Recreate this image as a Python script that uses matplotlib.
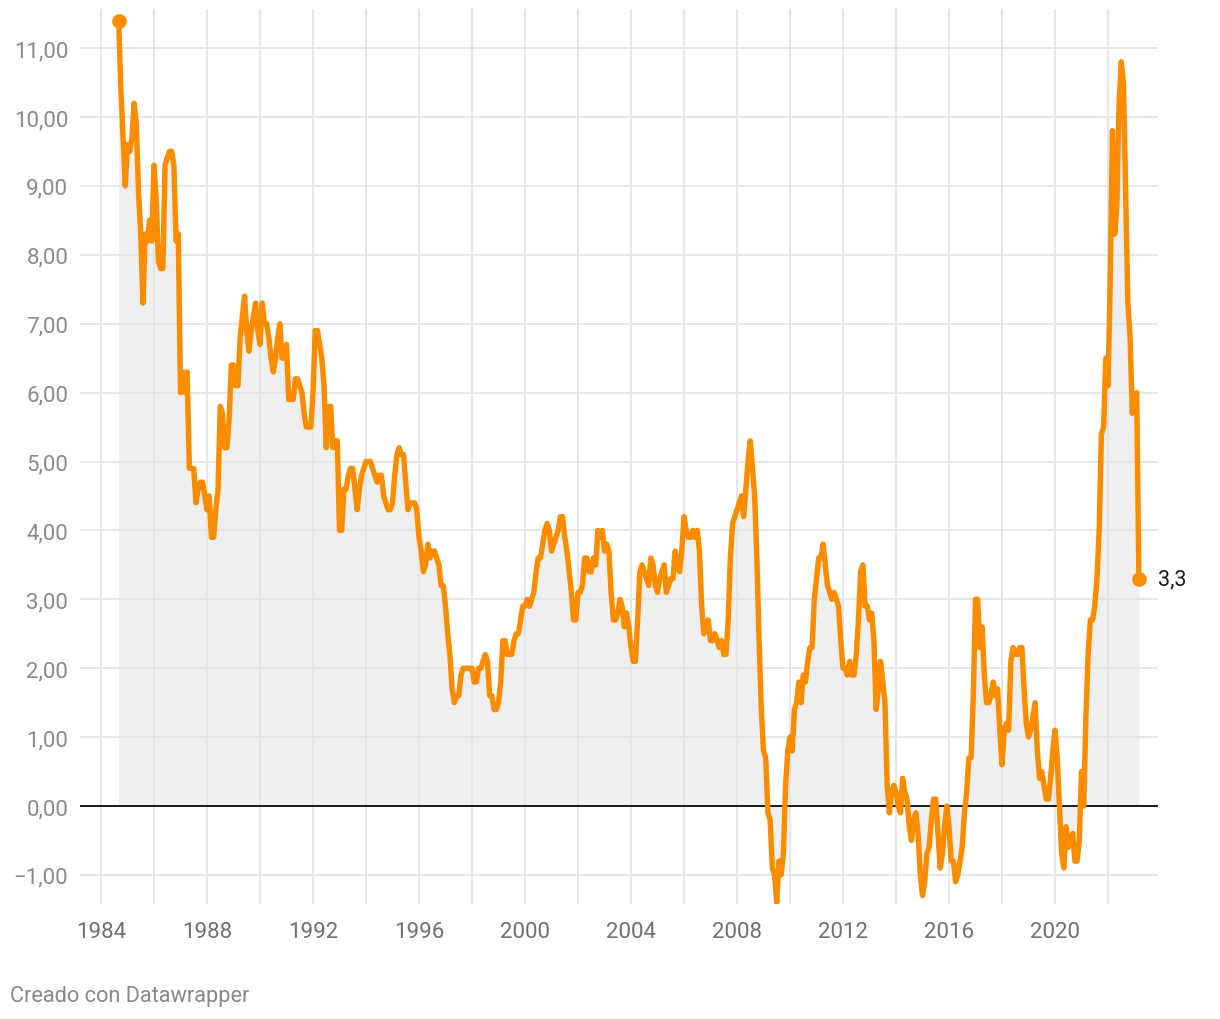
import matplotlib
matplotlib.use("Agg")
import matplotlib.pyplot as plt
import numpy as np

plt.rcParams['font.family'] = ['Roboto', 'DejaVu Sans']

# ---- data: monthly annual inflation rate (%), starting Sep 1984 ----
start_year, start_month = 1984, 9

v1984 = [11.4, 10.4, 9.7, 9.0]
v1985 = [9.6, 9.5, 9.7, 10.2, 9.9, 8.9, 8.3, 7.3, 8.3, 8.2, 8.5, 8.2]
v1986 = [9.3, 8.8, 7.9, 7.8, 7.8, 9.3, 9.4, 9.5, 9.5, 9.3, 8.2, 8.3]
v1987 = [6.0, 6.3, 6.0, 6.3, 4.9, 4.9, 4.9, 4.4, 4.6, 4.7, 4.7, 4.5]
v1988 = [4.3, 4.5, 3.9, 3.9, 4.3, 4.6, 5.8, 5.7, 5.2, 5.2, 5.6, 6.4]
v1989 = [6.4, 6.1, 6.1, 6.8, 7.1, 7.4, 6.9, 6.6, 6.9, 7.1, 7.3, 6.9]
v1990 = [6.7, 7.3, 7.0, 7.0, 6.8, 6.5, 6.3, 6.5, 6.8, 7.0, 6.5, 6.5]
v1991 = [6.7, 5.9, 5.9, 5.9, 6.2, 6.2, 6.1, 6.0, 5.7, 5.5, 5.5, 5.5]
v1992 = [6.0, 6.9, 6.9, 6.7, 6.5, 6.1, 5.2, 5.8, 5.8, 5.2, 5.3, 5.3]
v1993 = [4.0, 4.0, 4.6, 4.6, 4.8, 4.9, 4.9, 4.6, 4.3, 4.6, 4.8, 4.9]
v1994 = [5.0, 5.0, 5.0, 4.9, 4.8, 4.7, 4.8, 4.8, 4.5, 4.4, 4.3, 4.3]
v1995 = [4.4, 4.8, 5.1, 5.2, 5.1, 5.1, 4.7, 4.3, 4.4, 4.4, 4.4, 4.3]
v1996 = [3.9, 3.7, 3.4, 3.5, 3.8, 3.6, 3.7, 3.7, 3.6, 3.5, 3.2, 3.2]
v1997 = [2.9, 2.5, 2.2, 1.7, 1.5, 1.6, 1.6, 1.9, 2.0, 2.0, 2.0, 2.0]
v1998 = [2.0, 1.8, 1.8, 2.0, 2.0, 2.1, 2.2, 2.1, 1.6, 1.6, 1.4, 1.4]
v1999 = [1.5, 1.8, 2.4, 2.4, 2.2, 2.2, 2.2, 2.4, 2.5, 2.5, 2.7, 2.9]
v2000 = [2.9, 3.0, 2.9, 3.0, 3.1, 3.4, 3.6, 3.6, 3.8, 4.0, 4.1, 4.0]
v2001 = [3.7, 3.8, 3.9, 4.0, 4.2, 4.2, 3.9, 3.7, 3.4, 3.1, 2.7, 2.7]
v2002 = [3.1, 3.1, 3.2, 3.6, 3.6, 3.4, 3.4, 3.6, 3.5, 4.0, 3.9, 4.0]
v2003 = [3.7, 3.8, 3.7, 3.1, 2.7, 2.7, 2.8, 3.0, 2.9, 2.6, 2.8, 2.6]
v2004 = [2.3, 2.1, 2.1, 2.7, 3.4, 3.5, 3.4, 3.3, 3.2, 3.6, 3.5, 3.2]
v2005 = [3.1, 3.3, 3.4, 3.5, 3.1, 3.2, 3.3, 3.3, 3.7, 3.5, 3.4, 3.7]
v2006 = [4.2, 4.0, 3.9, 3.9, 4.0, 3.9, 4.0, 3.7, 2.9, 2.5, 2.6, 2.7]
v2007 = [2.4, 2.4, 2.5, 2.4, 2.3, 2.4, 2.2, 2.2, 2.7, 3.6, 4.1, 4.2]
v2008 = [4.3, 4.4, 4.5, 4.2, 4.6, 5.0, 5.3, 4.9, 4.5, 3.6, 2.4, 1.4]
v2009 = [0.8, 0.7, -0.1, -0.2, -0.9, -1.0, -1.4, -0.8, -1.0, -0.7, 0.3, 0.8]
v2010 = [1.0, 0.8, 1.4, 1.5, 1.8, 1.5, 1.9, 1.8, 2.1, 2.3, 2.3, 3.0]
v2011 = [3.3, 3.6, 3.6, 3.8, 3.5, 3.2, 3.1, 3.0, 3.1, 3.0, 2.9, 2.4]
v2012 = [2.0, 2.0, 1.9, 2.1, 1.9, 1.9, 2.2, 2.7, 3.4, 3.5, 2.9, 2.9]
v2013 = [2.7, 2.8, 2.4, 1.4, 1.7, 2.1, 1.8, 1.5, 0.3, -0.1, 0.2, 0.3]
v2014 = [0.2, 0.0, -0.1, 0.4, 0.2, 0.1, -0.3, -0.5, -0.2, -0.1, -0.4, -1.0]
v2015 = [-1.3, -1.1, -0.7, -0.6, -0.2, 0.1, 0.1, -0.4, -0.9, -0.7, -0.3, 0.0]
v2016 = [-0.3, -0.8, -0.8, -1.1, -1.0, -0.8, -0.6, -0.1, 0.2, 0.7, 0.7, 1.6]
v2017 = [3.0, 3.0, 2.3, 2.6, 1.9, 1.5, 1.5, 1.6, 1.8, 1.6, 1.7, 1.1]
v2018 = [0.6, 1.1, 1.2, 1.1, 2.1, 2.3, 2.2, 2.2, 2.3, 2.3, 1.7, 1.2]
v2019 = [1.0, 1.1, 1.3, 1.5, 0.8, 0.4, 0.5, 0.3, 0.1, 0.1, 0.4, 0.8]
v2020 = [1.1, 0.7, 0.0, -0.7, -0.9, -0.3, -0.6, -0.5, -0.4, -0.8, -0.8, -0.5]
v2021 = [0.5, 0.0, 1.3, 2.2, 2.7, 2.7, 2.9, 3.3, 4.0, 5.4, 5.5, 6.5]
v2022 = [6.1, 7.6, 9.8, 8.3, 8.7, 10.2, 10.8, 10.5, 8.9, 7.3, 6.8, 5.7]
v2023 = [5.9, 6.0, 3.3]

y_ticks = [-1, 0, 1, 2, 3, 4, 5, 6, 7, 8, 9, 10, 11]
x_label_years = [1984, 1988, 1992, 1996, 2000, 2004, 2008, 2012, 2016, 2020]
x_grid_years = list(range(1984, 2023, 2))
end_label = "3,3"
footer = "Creado con Datawrapper"

values = np.array(v1984 + v1985 + v1986 + v1987 + v1988 + v1989 + v1990 + v1991 +
                  v1992 + v1993 + v1994 + v1995 + v1996 + v1997 + v1998 + v1999 +
                  v2000 + v2001 + v2002 + v2003 + v2004 + v2005 + v2006 + v2007 +
                  v2008 + v2009 + v2010 + v2011 + v2012 + v2013 + v2014 + v2015 +
                  v2016 + v2017 + v2018 + v2019 + v2020 + v2021 + v2022 + v2023)
t = start_year + (start_month - 1 + np.arange(len(values))) / 12.0

# ---- figure ----
W, H = 1220, 1020
fig = plt.figure(figsize=(W / 100, H / 100), dpi=100)
L, R, T, B = 80, 1158, 10, 905
ax = fig.add_axes([L / W, 1 - B / H, (R - L) / W, (B - T) / H])

px_per_year = 26.5
px_per_unit = 68.9
ax.set_xlim(1984 + (L - 101) / px_per_year, 1984 + (R - 101) / px_per_year)
ax.set_ylim((807 - B) / px_per_unit, (807 - T) / px_per_unit)

orange = '#fb8c00'

ax.fill_between(t, values, 0, color='#efefef', lw=0, zorder=1)

for yv in y_ticks:
    if yv != 0:
        ax.axhline(yv, color='#e2e2e2', lw=1.2, zorder=2)
for xv in x_grid_years:
    ax.axvline(xv, color='#e2e2e2', lw=1.2, zorder=2)
ax.axhline(0, color='#1a1a1a', lw=1.4, zorder=3)

ax.plot(t, values, color=orange, lw=3.9, solid_joinstyle='round',
        solid_capstyle='round', zorder=4)
ax.plot([t[0], t[-1]], [values[0], values[-1]], 'o', color=orange, ms=9.5,
        zorder=5, clip_on=False)
ax.annotate(end_label, (t[-1], values[-1]), xytext=(14, 0),
            textcoords='offset points', va='center', ha='left',
            fontsize=15.5, color='#1a1a1a', annotation_clip=False)

def fmt(v):
    s = f"{abs(v):.2f}".replace('.', ',')
    return ('\u2212' if v < 0 else '') + s

ax.set_yticks(y_ticks)
ax.set_yticklabels([fmt(v) for v in y_ticks])
ax.set_xticks(x_label_years)
ax.set_xticklabels([str(y) for y in x_label_years])
ax.tick_params(axis='y', length=0, pad=8.5, labelsize=16, labelcolor='#8a8a8a')
ax.tick_params(axis='x', length=0, pad=12.5, labelsize=16, labelcolor='#707070')
for s in ax.spines.values():
    s.set_visible(False)
ax.set_facecolor('white')

fig.text(10 / W, 1 - 997 / H, footer, fontsize=15.7, color='#888888',
         ha='left', va='center')

fig.savefig('out.png', dpi=100, facecolor='white')
